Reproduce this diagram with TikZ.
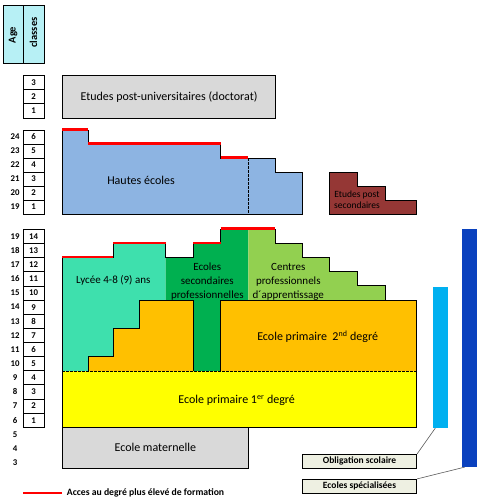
\documentclass[tikz,border=0pt]{standalone}
\usepackage{fontspec}
\setmainfont{Carlito}
\usetikzlibrary{positioning, calc}
\definecolor{hdrcyan}{RGB}{183,240,245}
\definecolor{greybox}{RGB}{217,217,217}
\definecolor{hesblue}{RGB}{141,180,226}
\definecolor{postred}{RGB}{149,55,53}
\definecolor{lyceeteal}{RGB}{62,224,173}
\definecolor{esgreen}{RGB}{0,176,80}
\definecolor{cpgreen}{RGB}{146,208,80}
\definecolor{primorange}{RGB}{255,192,0}
\definecolor{primyellow}{RGB}{255,255,0}
\definecolor{oblblue}{RGB}{0,176,240}
\definecolor{specblue}{RGB}{10,65,190}
\definecolor{legfill}{RGB}{238,240,226}

\begin{document}
\begin{tikzpicture}[
    x=1pt, y=-1pt,
    every node/.style={inner sep=0pt, font=\fontsize{9}{10}\selectfont},
    cell/.style  ={draw, line width=0.8pt, minimum width=21pt, minimum height=14.14pt,
                   font=\fontsize{8.8}{9}\selectfont\bfseries},
    agenum/.style={font=\fontsize{8.8}{9}\selectfont\bfseries},
    outline/.style={draw, line width=0.9pt},
    access/.style={red, line width=2.6pt},
    dashline/.style={line width=0.6pt, dash pattern=on 2.5pt off 1.5pt},
    lab/.style   ={align=center, font=\fontsize{11}{14}\selectfont},
    biglab/.style={align=center, font=\fontsize{12}{14}\selectfont},
    legbox/.style={draw, line width=0.8pt, fill=legfill, minimum width=114.4pt,
                   minimum height=14pt, font=\fontsize{9.5}{10}\selectfont\bfseries},
    bar/.style   ={minimum width=14.4pt, anchor=north},
    link/.style  ={draw=black!65, line width=0.6pt},
]
\useasboundingbox (0,0) rectangle (490,499);

% header
\draw[line width=0.8pt, fill=hdrcyan] (3,5) rectangle (44,63);
\draw[line width=0.8pt] (23,5) -- (23,63);
\node[rotate=90, font=\fontsize{10.5}{11}\selectfont\bfseries] (agehd) at (13,35) {Age};
\node[rotate=90, font=\fontsize{10.5}{11}\selectfont\bfseries] (clshd) at (33.5,32.5) {classes};

% class and age columns
\foreach \c in {1,2,3}
  \node[cell, minimum height=14.23pt] (doc\c) at (33.5,{118-(\c-0.5)*14.23}) {\c};
\foreach \c in {1,...,6}{
  \pgfmathtruncatemacro\a{\c+18}
  \node[cell, minimum height=14pt] (he\c) at (33.5,{214-(\c-0.5)*14}) {\c};
  \node[agenum] (heage\a) at (15,{214-(\c-0.5)*14}) {\a};
}
\foreach \c in {1,...,14}
  \node[cell] (sc\c) at (33.5,{427.3-(\c-0.5)*14.14}) {\c};
\foreach \c in {-2,...,14}{
  \pgfmathtruncatemacro\a{\c+5}
  \node[agenum] (age\a) at (15,{427.3-(\c-0.5)*14.14}) {\a};
}

% post-graduate level
\node[outline, fill=greybox, minimum width=213.4pt, minimum height=42.7pt,
      font=\fontsize{12}{14}\selectfont] (doct) at (169,96.6)
      {Etudes post-universitaires (doctorat)};

% tertiary level
\draw[outline, fill=hesblue] (62.3,214) -- (62.3,130) -- (88.3,130) -- (88.3,144)
   -- (220.7,144) -- (220.7,158) -- (275.3,158) -- (275.3,172) -- (302.3,172)
   -- (302.3,214) -- cycle;
\draw[dashline] (248.3,158) -- (248.3,214);
\draw[access] (62.3,129.4) -- (88.3,129.4);
\draw[access] (88.3,143.4) -- (220.7,143.4);
\draw[access] (220.7,157.4) -- (248.3,157.4);
\node[biglab] (hes) at (141,180) {Hautes écoles};

\draw[outline, fill=postred] (329.3,214) -- (329.3,172) -- (357,172) -- (357,186)
   -- (385,186) -- (385,200) -- (416.7,200) -- (416.7,214) -- cycle;
\node[align=center, font=\fontsize{9.5}{11}\selectfont] (postsec) at (357,199.6)
   {Etudes post\\secondaires};

% secondary level
\fill[lyceeteal] (62.3,371) -- (62.3,257.6) -- (113.3,257.6) -- (113.3,243.5)
   -- (165.7,243.5) -- (165.7,371) -- cycle;
\fill[esgreen] (165.7,371) -- (165.7,257.6) -- (193.3,257.6) -- (193.3,243.5)
   -- (220.7,243.5) -- (220.7,229.3) -- (248.3,229.3) -- (248.3,371) -- cycle;
\fill[cpgreen] (248.3,300) -- (248.3,229.3) -- (275.3,229.3) -- (275.3,243.5)
   -- (302.3,243.5) -- (302.3,257.6) -- (329.3,257.6) -- (329.3,271.8)
   -- (357.7,271.8) -- (357.7,285.9) -- (385.7,285.9) -- (385.7,300) -- cycle;
\draw[outline, fill=primorange] (88.3,371) -- (88.3,356.6) -- (113.3,356.6)
   -- (113.3,328.3) -- (139.3,328.3) -- (139.3,300) -- (193.3,300) -- (193.3,371);
\draw[outline, fill=primorange] (220.7,371) -- (220.7,300) -- (416.7,300) -- (416.7,371);
\fill[primyellow] (62.3,371) rectangle (416.7,427.3);
\draw[dashline] (62.3,371) -- (416.7,371);
\draw[outline] (62.3,427.3) -- (62.3,257.6) -- (113.3,257.6) -- (113.3,243.5)
   -- (165.7,243.5) -- (165.7,257.6) -- (193.3,257.6) -- (193.3,243.5)
   -- (220.7,243.5) -- (220.7,229.3) -- (275.3,229.3) -- (275.3,243.5)
   -- (302.3,243.5) -- (302.3,257.6) -- (329.3,257.6) -- (329.3,271.8)
   -- (357.7,271.8) -- (357.7,285.9) -- (385.7,285.9) -- (385.7,300)
   -- (416.7,300) -- (416.7,427.3) -- cycle;
\draw[access] (62.3,257) -- (113.3,257);
\draw[access] (113.3,242.9) -- (165.7,242.9);
\draw[access] (193.3,242.9) -- (220.7,242.9);
\draw[access] (220.7,228.7) -- (275.3,228.7);
\node[lab] (lycee) at (113.3,280.7) {Lycée 4-8 (9) ans};
\node[lab] (esp) at (207.3,281.7) {Ecoles\\secondaires\\professionnelles};
\node[lab] (cpa) at (288.3,281.7) {Centres\\professionnels\\d´apprentissage};
\node[biglab] (prim2) at (317.7,336.7) {Ecole primaire\ \ 2\textsuperscript{nd} degré};

% primary and pre-school
\node[biglab] (prim1) at (236.7,400.7) {Ecole primaire 1\textsuperscript{er} degré};
\node[outline, fill=greybox, minimum width=186pt, minimum height=41pt,
      font=\fontsize{12}{14}\selectfont] (mat) at (155.3,447.8) {Ecole maternelle};

% bars and their labels
\node[bar, fill=oblblue, minimum height=140.7pt] (oblbar) at (440.5,287) {};
\node[bar, fill=specblue, minimum height=237.7pt] (specbar) at (469.5,229) {};
\node[legbox] (oblbox) at (359.5,461.3) {Obligation scolaire};
\node[legbox] (specbox) at (359.5,486.3) {Ecoles spécialisées};
\draw[link] (oblbox.north east) -- ([xshift=2.2pt]oblbar.south west);
\draw[link] (specbox.north east) -- ([xshift=2.7pt]specbar.south west);

% legend
\node[anchor=west, font=\fontsize{9.7}{11}\selectfont\bfseries] (acclab) at (66.7,493)
   {Acces au degré plus élevé de formation};
\draw[access] ([xshift=-4.7pt]acclab.west) -- ++(-39,0);
\end{tikzpicture}
\end{document}
